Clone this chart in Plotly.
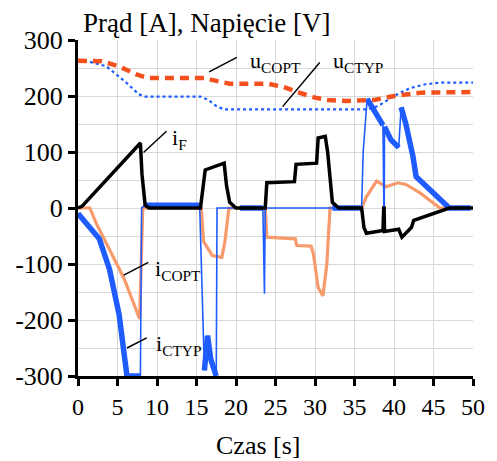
import plotly.graph_objects as go

# u_COPT (red dashed)
t_ucopt = [0, 3.0, 5.2, 7.3, 8.9, 16.0, 17.5, 19.2, 24.0, 26.0, 28.0, 30.0, 31.6, 34.0, 37.5, 40.0, 43.5, 50.0]
v_ucopt = [263, 262, 253, 239, 232, 232, 227, 222, 222, 216, 206, 197, 193, 191, 193, 200, 206, 207]

# u_CTYP (blue dotted)
t_uctyp = [0, 1.5, 3.6, 6.1, 7.7, 8.5, 15.5, 16.5, 17.5, 18.5, 36.5, 38.0, 40.0, 42.0, 44.0, 46.0, 50.0]
v_uctyp = [262, 261, 253, 224, 203, 199, 199, 193, 182, 176, 176, 182, 200, 214, 221, 224, 224]

# i_F (black)
t_if = [0, 0.5, 7.9, 8.1, 8.5, 9.0, 15.5, 15.8, 16.1, 18.5, 18.8, 19.2, 20.0, 23.7, 23.9, 27.4, 27.6, 30.2, 30.4,
        31.3, 31.6, 32.2, 33.0, 35.9, 36.2, 36.5, 38.6, 38.7, 38.75, 38.8, 40.6, 41.0, 41.3, 42.2, 42.5, 47.0, 50.0]
v_if = [0, 3, 116, 60, 5, 0, 0, 40, 68, 80, 40, 10, 0, 0, 45, 47, 78, 80, 125,
        128, 100, 10, 0, 0, -35, -45, -40, 0, 0, -42, -38, -52, -48, -35, -22, 0, 0]

# i_COPT (light orange)
t_icopt = [0, 1.5, 2.3, 4.0, 5.8, 7.8, 7.95, 8.2, 15.6, 15.9, 17.0, 18.2, 18.6, 19.1, 23.7, 23.9, 27.5, 27.7,
           29.5, 29.8, 30.4, 31.0, 31.5, 31.9, 35.9, 36.5, 37.8, 39.0, 40.5, 41.5, 43.3, 45.8, 50.0]
v_icopt = [0, 0, -27, -75, -125, -198, -100, 0, 0, -60, -85, -88, -60, 0, 0, -52, -55, -67,
           -68, -82, -142, -157, -100, 0, 0, 20, 48, 38, 45, 42, 27, 0, 0]

# i_CTYP (blue)
t_ictyp = [0, 0.6, 1.5, 2.3, 2.7, 4.0, 5.2, 6.2, 7.9, 8.05, 8.5, 15.4, 15.6, 16.0, 16.4, 16.8, 17.5, 17.6,
           20.5, 23.4, 23.6, 23.7, 32.2, 35.9, 36.1, 36.6, 37.0, 38.0, 38.6, 38.7, 38.75, 38.8, 39.0, 39.6, 40.6,
           40.9, 41.5, 42.4, 42.8, 47.0, 49.7]
v_ictyp = [-10, -20, -35, -45, -55, -110, -190, -300, -300, 0, 5, 5, -100, -290, -228, -270, -300, 0,
           0, 0, -153, 0, 0, 0, 100, 195, 185, 160, 148, -34, -34, 145, 140, 122, 108,
           180, 150, 92, 56, 0, 0]
# time spans where the measured i_CTYP signal is a noisy (thick) band
ictyp_noisy = [(0, 7.9), (8.5, 15.4), (16.0, 17.5), (20.5, 23.4), (32.2, 35.9), (36.6, 38.6), (38.8, 40.6),
               (40.9, 49.7)]

x_ticks = [0, 5, 10, 15, 20, 25, 30, 35, 40, 45, 50]
y_ticks = [-300, -200, -100, 0, 100, 200, 300]

RED = "#f4511e"
BLUE = "#1f5cff"
SALMON = "#f79b6d"
SERIF = "Liberation Serif, Times New Roman, serif"


def band(ts, vs, spans):
    bx, by = [], []
    for a, b in spans:
        for t, v in zip(ts, vs):
            if a <= t <= b:
                bx.append(t)
                by.append(v)
        bx.append(None)
        by.append(None)
    return bx, by


fig = go.Figure()
fig.add_trace(go.Scatter(x=t_icopt, y=v_icopt, mode="lines", line=dict(color=SALMON, width=3.2)))
fig.add_trace(go.Scatter(x=t_ictyp, y=v_ictyp, mode="lines", line=dict(color=BLUE, width=1.6)))
bx, by = band(t_ictyp, v_ictyp, ictyp_noisy)
fig.add_trace(go.Scatter(x=bx, y=by, mode="lines", line=dict(color=BLUE, width=5.5)))
fig.add_trace(go.Scatter(x=t_if, y=v_if, mode="lines", line=dict(color="black", width=3.5)))
fig.add_trace(go.Scatter(x=t_uctyp, y=v_uctyp, mode="lines", line=dict(color=BLUE, width=2.2, dash="dot")))
fig.add_trace(go.Scatter(x=t_ucopt, y=v_ucopt, mode="lines", line=dict(color=RED, width=4.5, dash="9px,6px")))

labels = [
    ("u<sub>COPT</sub>", 25.0, 260, (20.1, 269), (16.6, 243)),
    ("u<sub>CTYP</sub>", 35.4, 260, (30.6, 260), (25.9, 181)),
    ("i<sub>F</sub>", 12.9, 123, (11.2, 137), (8.3, 99)),
    ("i<sub>COPT</sub>", 12.7, -110, (8.9, -97), (5.8, -120)),
    ("i<sub>CTYP</sub>", 12.7, -245, (8.7, -232), (6.2, -250)),
]
for txt, lx, ly, p0, p1 in labels:
    fig.add_annotation(x=lx, y=ly, text=txt, showarrow=False,
                       font=dict(family=SERIF, size=22, color="black"))
    fig.add_shape(type="line", x0=p0[0], y0=p0[1], x1=p1[0], y1=p1[1],
                  line=dict(color="black", width=1.5))

fig.add_annotation(xref="paper", yref="paper", x=(81 - 78) / 403, y=1.0, yanchor="bottom", xanchor="left",
                   text="Prąd [A], Napięcie [V]", showarrow=False,
                   font=dict(family=SERIF, size=27, color="black"))
fig.add_annotation(xref="paper", yref="paper", x=(262 - 78) / 403, y=(376 - 461) / 336, yanchor="bottom",
                   xanchor="center", text="Czas [s]", showarrow=False, borderpad=0,
                   font=dict(family=SERIF, size=26, color="black"))

fig.update_layout(
    width=497, height=461,
    margin=dict(l=78, r=16, t=40, b=85),
    paper_bgcolor="white", plot_bgcolor="white",
    showlegend=False,
    font=dict(family=SERIF, size=25, color="black"),
)
fig.update_xaxes(range=[0, 50], tickvals=x_ticks, ticktext=[str(v) for v in x_ticks],
                 showgrid=True, gridcolor="#d9d9d9", gridwidth=1,
                 showline=True, linecolor="black", linewidth=3,
                 ticks="outside", ticklen=7, tickwidth=3, tickcolor="black",
                 zeroline=False, tickfont=dict(family=SERIF, size=24))
fig.update_yaxes(range=[-300, 300], tickvals=y_ticks, ticktext=[str(v) for v in y_ticks],
                 showgrid=True, gridcolor="#d9d9d9", gridwidth=1,
                 minor=dict(dtick=50, showgrid=True, gridcolor="#d9d9d9", gridwidth=1),
                 showline=True, linecolor="black", linewidth=3,
                 ticks="outside", ticklen=7, tickwidth=3, tickcolor="black",
                 zeroline=False, tickfont=dict(family=SERIF, size=26))

fig.write_html("out.html")
